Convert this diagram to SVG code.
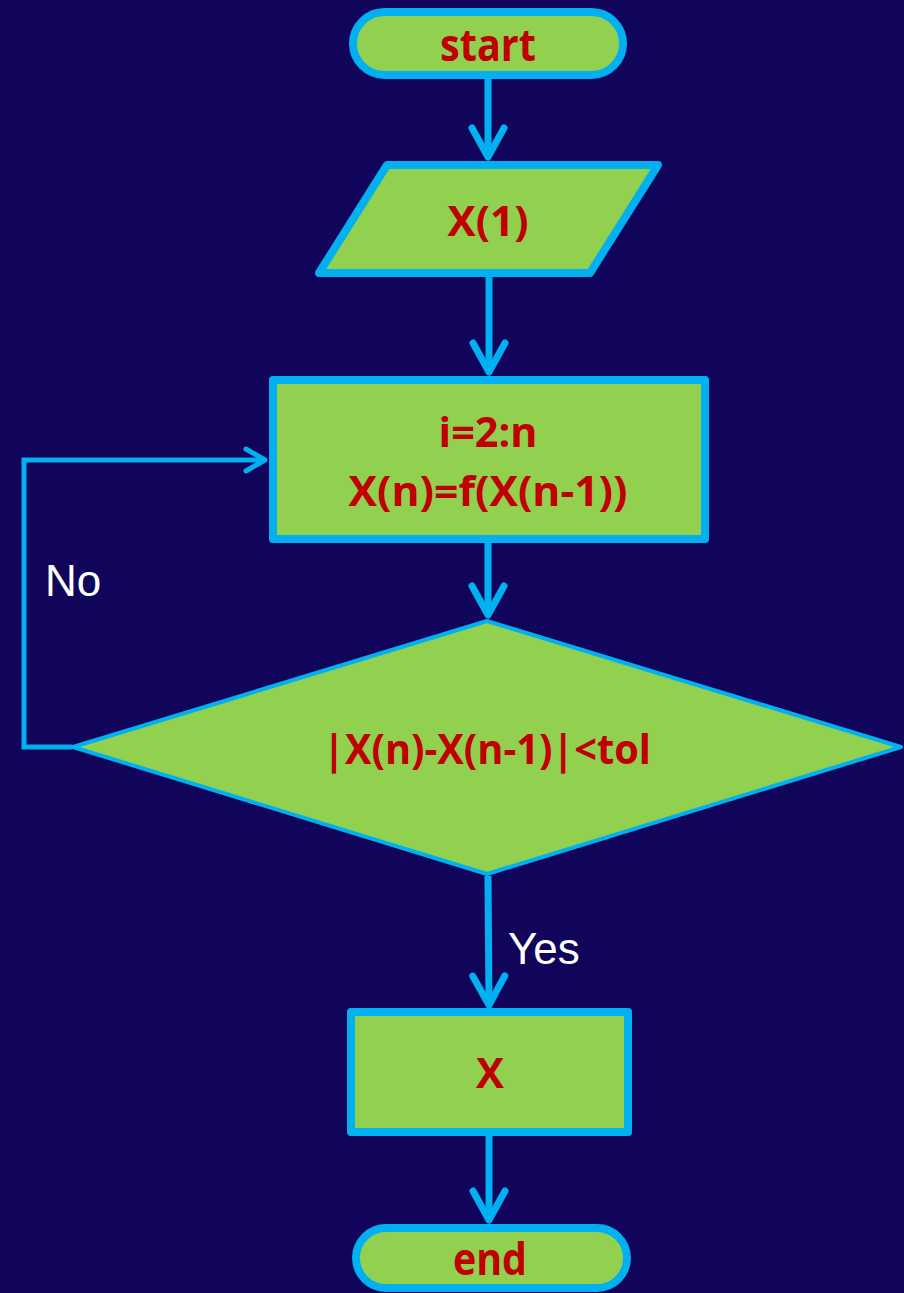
<svg xmlns="http://www.w3.org/2000/svg" width="904" height="1293" viewBox="0 0 904 1293">
  <defs>
    <style>
      .shape { fill: #92d050; stroke: #00b0f0; stroke-linejoin: round; }
      .thick { stroke-width: 8; }
      .thin { stroke-width: 4; }
      .t { font-family: "Open Sans", "Liberation Sans", sans-serif; font-weight: 700; fill: #c00000; text-anchor: middle; font-size: 42px; }
      .term { font-family: "Open Sans", "Liberation Sans", sans-serif; font-weight: 700; fill: #c00000; text-anchor: middle; font-size: 44px; }
      .lbl { font-family: "Liberation Sans", Arial, sans-serif; fill: #ffffff; font-size: 44px; }
      .conn { fill: none; stroke: #00b0f0; }
    </style>
    <marker id="arr" markerUnits="userSpaceOnUse" viewBox="-40 -25 50 50" markerWidth="50" markerHeight="50" refX="0" refY="0" orient="auto" overflow="visible">
      <path d="M-29,-16 L0,0 L-29,16" fill="none" stroke="#00b0f0" stroke-width="7" stroke-linecap="round" stroke-linejoin="round"/>
    </marker>
    <marker id="arrS" markerUnits="userSpaceOnUse" viewBox="-30 -20 40 40" markerWidth="40" markerHeight="40" refX="0" refY="0" orient="auto" overflow="visible">
      <path d="M-19,-11 L0,0 L-19,11" fill="none" stroke="#00b0f0" stroke-width="5" stroke-linecap="round" stroke-linejoin="round"/>
    </marker>
  </defs>
  <rect x="0" y="0" width="904" height="1293" fill="#10055a"/>

  <g id="connectors">
    <path class="conn" stroke-width="7" d="M488,79 V157" marker-end="url(#arr)"/>
    <path class="conn" stroke-width="7" d="M489,277 V372" marker-end="url(#arr)"/>
    <path class="conn" stroke-width="7" d="M488,543 V615" marker-end="url(#arr)"/>
    <path class="conn" stroke-width="7" d="M488,876 L489,1005" marker-end="url(#arr)"/>
    <path class="conn" stroke-width="7" d="M489,1136 V1220" marker-end="url(#arr)"/>
    <path class="conn" stroke-width="5" d="M72,747 H24 V460 H265" marker-end="url(#arrS)"/>
    <text class="lbl" x="45" y="596">No</text>
    <text class="lbl" x="508" y="964">Yes</text>
  </g>

  <g id="start">
    <rect class="shape thick" x="353" y="12" width="270" height="63" rx="31.5" ry="31.5"/>
    <text class="term" x="488" y="61" textLength="96" lengthAdjust="spacingAndGlyphs">start</text>
  </g>

  <g id="input">
    <polygon class="shape thick" points="387,165 658,165 590,273 319,273"/>
    <text class="t" x="488" y="236" textLength="81" lengthAdjust="spacingAndGlyphs">X(1)</text>
  </g>

  <g id="process">
    <rect class="shape thick" x="273" y="380" width="432" height="159"/>
    <text class="t" x="488" y="447" textLength="99" lengthAdjust="spacingAndGlyphs">i=2:n</text>
    <text class="t" x="488" y="506" textLength="279" lengthAdjust="spacingAndGlyphs">X(n)=f(X(n-1))</text>
  </g>

  <g id="decision">
    <polygon class="shape thin" points="487,621 901,747 487,874 73,747"/>
    <text class="t" x="487" y="764" textLength="328" lengthAdjust="spacingAndGlyphs">|X(n)-X(n-1)|&lt;tol</text>
  </g>

  <g id="output">
    <rect class="shape thick" x="351" y="1012" width="277" height="120"/>
    <text class="t" x="490" y="1088">X</text>
  </g>

  <g id="end">
    <rect class="shape thick" x="356" y="1228" width="271" height="60" rx="30" ry="30"/>
    <text class="term" x="490" y="1275" textLength="74" lengthAdjust="spacingAndGlyphs">end</text>
  </g>
</svg>
